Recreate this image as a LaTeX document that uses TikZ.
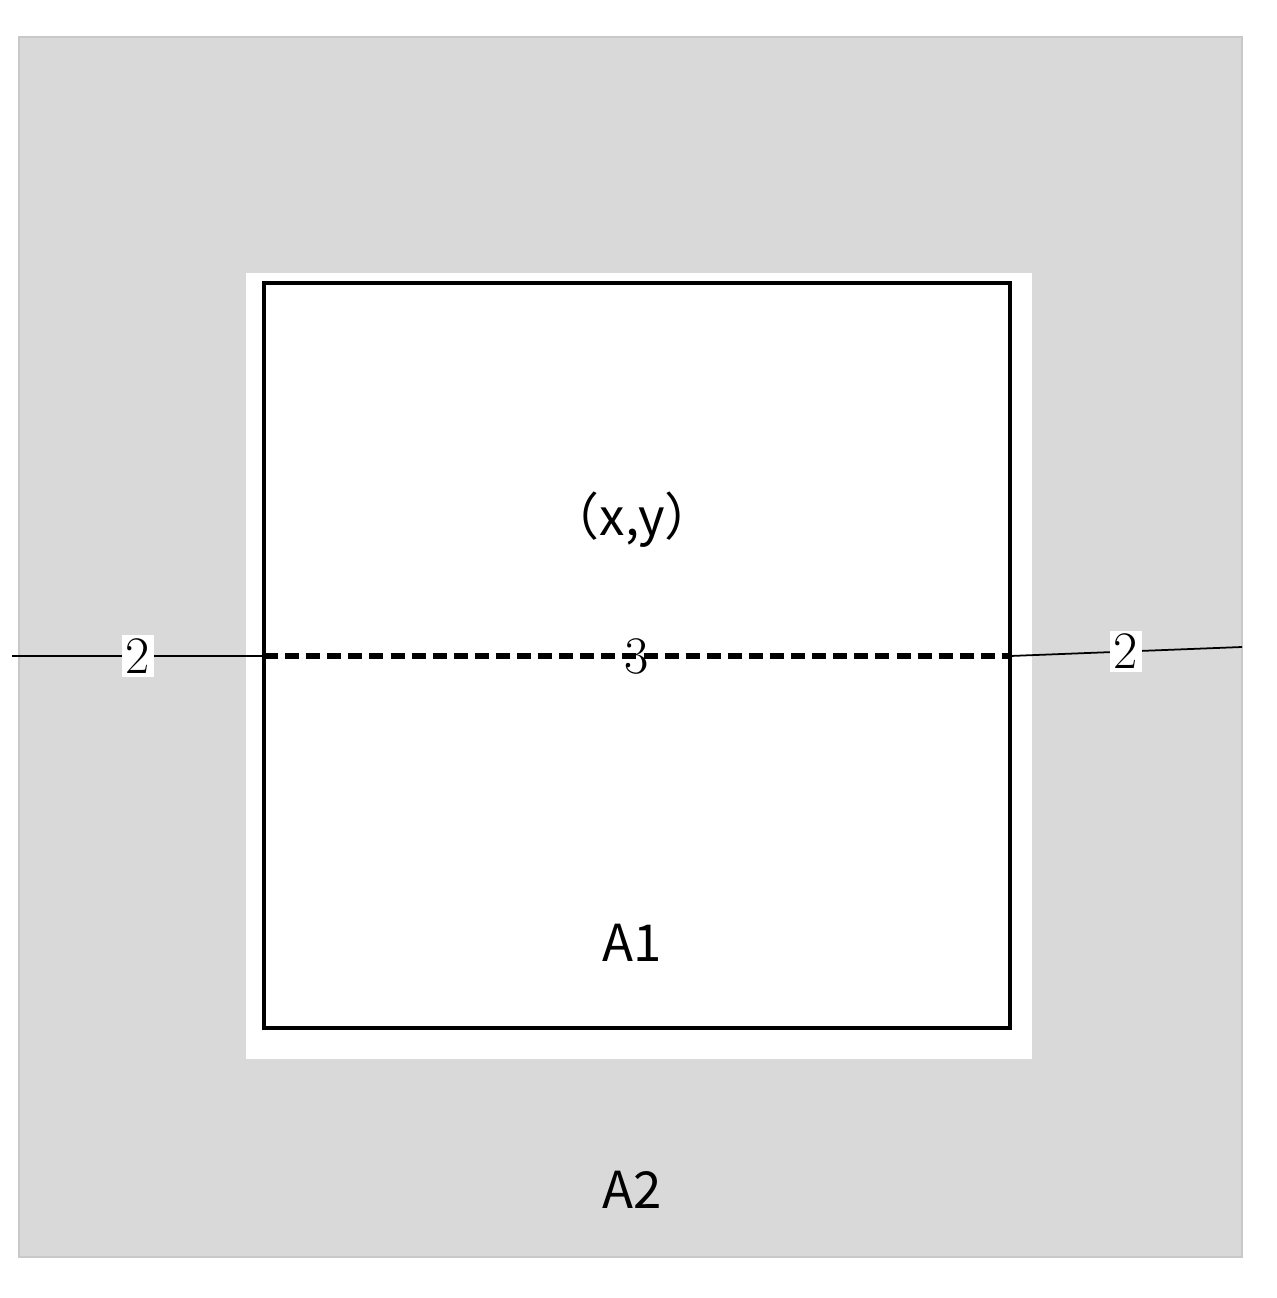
\documentclass[tikz,border=0pt]{standalone}
\usepackage{fontspec}
\newfontfamily\cjk{Noto Sans CJK SC}
\tikzset{lbl/.style={font=\fontsize{29}{32}\selectfont\cjk},
num/.style={font=\fontsize{30}{32}\selectfont, fill=white, inner sep=2pt}}
\begin{document}
\begin{tikzpicture}[x=0.02cm,y=-0.02cm]
\useasboundingbox (0,0) rectangle (1276,1298);
\fill[white] (0,0) rectangle (1276,1298);
\draw[fill={rgb,255:red,217;green,217;blue,217}, draw={rgb,255:red,200;green,200;blue,200}, line width=1.2pt] (19,37) rectangle (1242,1257);
\fill[white] (246,273) rectangle (1032,1059);
\draw[line width=2pt] (264,283) rectangle (1010,1028);
\coordinate (L0) at (12,656);
\coordinate (L1) at (264,656);
\coordinate (R1) at (1010,656);
\coordinate (R0) at (1242,647);
\draw[line width=1pt] (L0) -- node[num]{2} (L1);
\draw[line width=1pt] (R1) -- node[num,pos=0.5]{2} (R0);
\draw[line width=3.2pt, dash pattern=on 8pt off 4pt] (L1) -- node[font=\fontsize{30}{32}\selectfont]{3} (R1);
\node[lbl] (xy) at (632,520) {（x,y）};
\node[lbl] (a1) at (632,943) {A1};
\node[lbl] (a2) at (632,1190) {A2};
\end{tikzpicture}
\end{document}
